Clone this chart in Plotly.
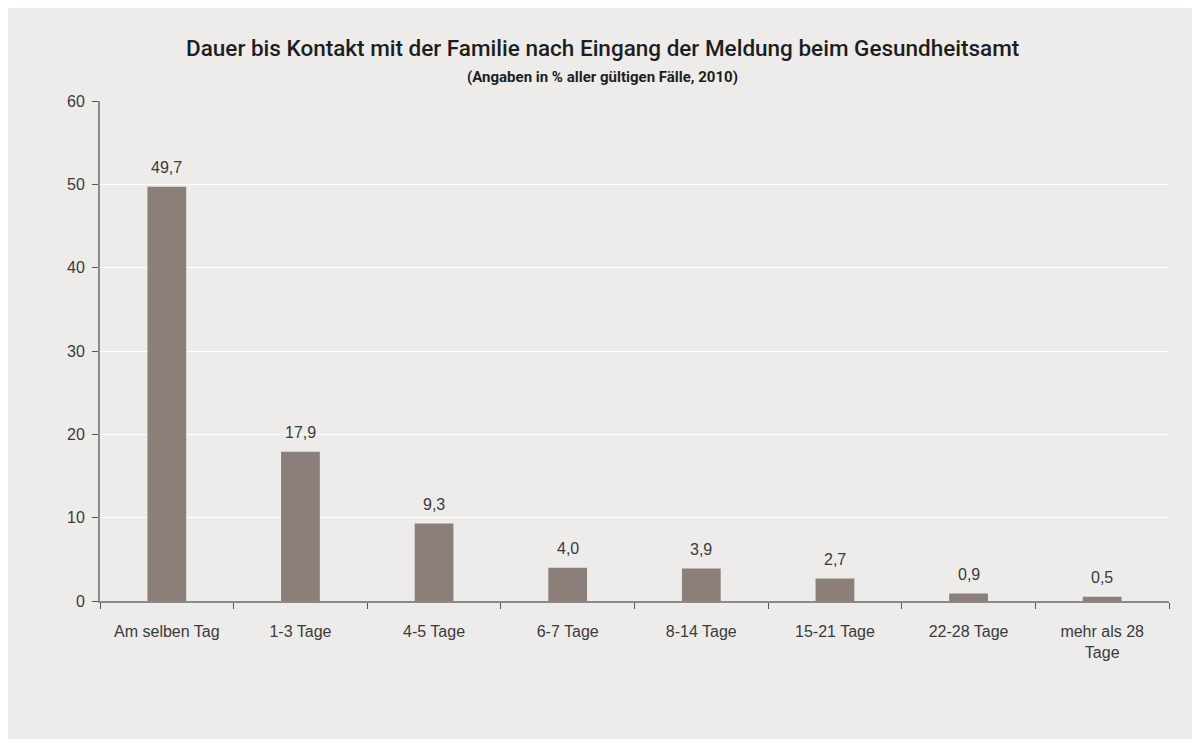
import plotly.graph_objects as go

categories = ["Am selben Tag", "1-3 Tage", "4-5 Tage", "6-7 Tage", "8-14 Tage",
              "15-21 Tage", "22-28 Tage", "mehr als 28<br>Tage"]
values = [49.7, 17.9, 9.3, 4.0, 3.9, 2.7, 0.9, 0.5]
labels = [f"{v:.1f}".replace(".", ",") for v in values]
y_ticks = [0, 10, 20, 30, 40, 50, 60]

W, H = 1184, 731
L, R, T, B = 92, 23, 93, 138
pw, ph = W - L - R, H - T - B

def px_x(x):
    return (x - L) / pw

def px_y(y):
    return (H - B - y) / ph

TXT = "#3a3a3a"
BODY = "Liberation Sans"
HEAD = "Roboto, Liberation Sans, sans-serif"

fig = go.Figure()
fig.add_trace(go.Bar(
    x=categories, y=values, marker_color="#8C7F7A", marker_line_width=0,
    hoverinfo="x+y",
))

for c, v, t in zip(categories, values, labels):
    fig.add_annotation(x=c, y=v, text=t, showarrow=False, yanchor="bottom", yshift=9,
                       font=dict(family=BODY, size=16, color=TXT))

fig.add_annotation(text="Dauer bis Kontakt mit der Familie nach Eingang der Meldung beim Gesundheitsamt",
                   xref="paper", yref="paper", x=px_x(594), y=px_y(40), showarrow=False,
                   xanchor="center", yanchor="middle",
                   font=dict(family=HEAD, size=22.5, color="#1e1e1e", weight=500))
fig.add_annotation(text="(Angaben in % aller gültigen Fälle, 2010)",
                   xref="paper", yref="paper", x=px_x(594), y=px_y(69), showarrow=False,
                   xanchor="center", yanchor="middle",
                   font=dict(family=HEAD, size=15, color="#1e1e1e", weight=700))

fig.update_layout(
    width=W, height=H, margin=dict(l=L, r=R, t=T, b=B),
    paper_bgcolor="#EDECEA", plot_bgcolor="#EDECEA",
    bargap=0.71, showlegend=False,
    font=dict(family=BODY, size=16, color=TXT),
)
fig.update_xaxes(showline=True, linecolor="#8a8a8a", linewidth=2, tickson="boundaries",
                 ticks="outside", ticklen=6, tickcolor="#555", showgrid=False,
                 ticklabelstandoff=15,
                 tickfont=dict(family=BODY, size=16, color=TXT))
fig.update_yaxes(range=[0, 60], tickvals=y_ticks, showline=True, linecolor="#8a8a8a", linewidth=2,
                 ticks="outside", ticklen=6, tickcolor="#555", showgrid=True, gridcolor="white",
                 gridwidth=1, zeroline=False, ticklabelstandoff=4,
                 tickfont=dict(family=BODY, size=16, color=TXT))

fig.write_html("out.html")
